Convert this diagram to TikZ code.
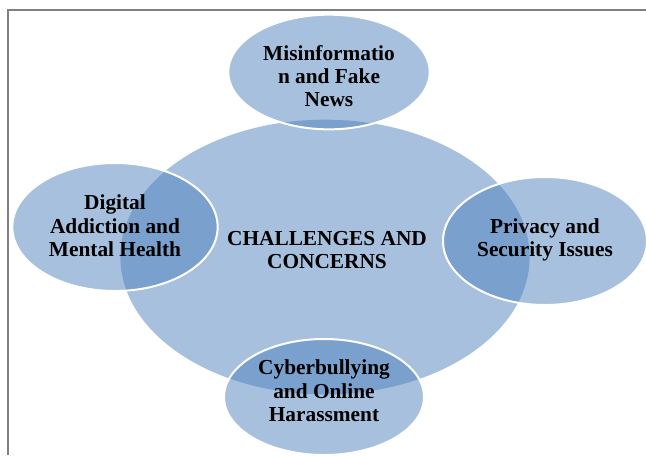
\documentclass[tikz,border=0pt]{standalone}
\usepackage{fontspec}
\setmainfont{Liberation Serif}
\usetikzlibrary{shapes.geometric}
\definecolor{vennblue}{HTML}{4F81BD}
\tikzstyle{bubble}=[ellipse,fill=vennblue,fill opacity=0.5,
                    inner sep=0pt]
\tikzstyle{petal}=[bubble,draw=white,draw opacity=1,line width=1.5pt]
\tikzstyle{caption}=[align=center,text=black,inner sep=0pt,
                     font=\bfseries\fontsize{16pt}{17.5pt}\selectfont]

\begin{document}
\begin{tikzpicture}[x=0.75pt,y=-0.75pt]
    \useasboundingbox (0,0) rectangle (646,455);
    \draw[gray,line width=1.5pt] (8,455) -- (8,9.5) -- (646,9.5);
    % centre and four satellites
    \node (core) at (325,257) [bubble,minimum width=307pt,minimum height=206pt]{};
    \node (top) at (329,72) [petal,minimum width=151pt,minimum height=86pt]{};
    \node (left) at (115,227) [petal,minimum width=154pt,minimum height=96pt]{};
    \node (right) at (545,241) [petal,minimum width=153pt,minimum height=96pt]{};
    \node (bottom) at (324,397) [petal,minimum width=150pt,minimum height=87pt]{};
    % texts
    \node (tcore) at (327,250) [caption]{CHALLENGES AND\\CONCERNS};
    \node (ttop) at (329,76) [caption]{Misinformatio\\n and Fake\\News};
    \node (tleft) at (115,226) [caption]{Digital\\Addiction and\\Mental Health};
    \node (tright) at (545,240) [caption]{Privacy and\\Security Issues};
    \node (tbottom) at (324,391) [caption]{Cyberbullying\\and Online\\Harassment};
  \end{tikzpicture}
\end{document}
